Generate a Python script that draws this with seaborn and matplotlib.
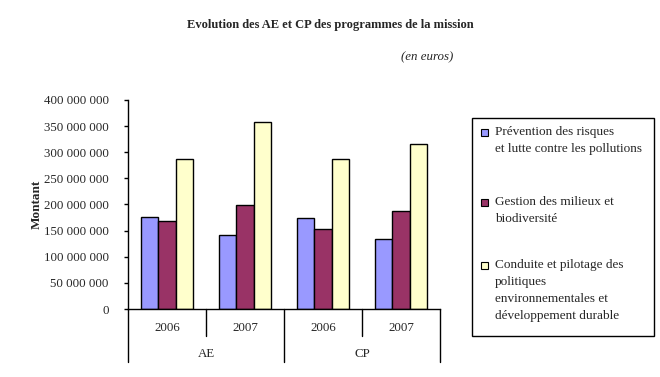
import matplotlib
matplotlib.use("Agg")
import matplotlib.pyplot as plt
import matplotlib.transforms as mtransforms
from matplotlib.patches import Rectangle
from matplotlib.ticker import FuncFormatter
import pandas as pd
import seaborn as sns

# Données (en euros)
types = ["AE", "AE", "CP", "CP"]
annees = ["2006", "2007", "2006", "2007"]
programmes = [
    "Prévention des risques\net lutte contre les pollutions",
    "Gestion des milieux et\nbiodiversité",
    "Conduite et pilotage des\npolitiques\nenvironnementales et\ndéveloppement durable",
]
prevention = [177_000_000, 141_000_000, 173_500_000, 133_500_000]
gestion = [167_500_000, 198_500_000, 152_500_000, 188_500_000]
conduite = [287_500_000, 358_000_000, 287_500_000, 316_000_000]
couleurs = ["#9999FF", "#993366", "#FFFFCC"]

# Tableau long pour seaborn
cats = [f"{t} {a}" for t, a in zip(types, annees)]
rows = []
for prog, vals in zip(programmes, [prevention, gestion, conduite]):
    for c, v in zip(cats, vals):
        rows.append({"cat": c, "programme": prog, "montant": v})
df = pd.DataFrame(rows)

sns.set_style("white")
plt.rcParams["font.family"] = ["Liberation Serif", "DejaVu Serif"]

fig = plt.figure(figsize=(6.6, 3.77), dpi=100)
ax = fig.add_axes([128 / 660, 1 - 309 / 377, 312 / 660, 209 / 377])

sns.barplot(data=df, x="cat", y="montant", hue="programme", order=cats,
            hue_order=programmes, palette=couleurs, saturation=1, width=0.66,
            edgecolor="black", linewidth=1.0, legend=False, ax=ax)

ax.set_xlim(-0.5, len(cats) - 0.5)
ax.set_ylim(0, 400_000_000)
ax.set_yticks(range(0, 400_000_001, 50_000_000))
ax.yaxis.set_major_formatter(FuncFormatter(lambda v, p: f"{int(v):,}".replace(",", " ")))
ax.tick_params(axis="y", which="major", left=True, length=3, width=1,
               color="black", labelsize=9.3, pad=11)
ax.set_xticks([])
ax.set_xlabel("")
ax.set_ylabel("Montant", fontsize=9.5, fontweight="bold")
ax.yaxis.set_label_coords(-0.274, 0.5)
for s in ["top", "right"]:
    ax.spines[s].set_visible(False)
for s in ["left", "bottom"]:
    ax.spines[s].set_color("black")
    ax.spines[s].set_linewidth(1)

# Axe des catégories à deux niveaux
trans = mtransforms.blended_transform_factory(ax.transData, ax.transAxes)
for i in range(len(cats) + 1):
    x = i - 0.5
    outer = i % 2 == 0
    ax.plot([x, x], [0, -0.254 if outer else -0.129], color="black", lw=1,
            transform=trans, clip_on=False)
for i, a in enumerate(annees):
    ax.text(i, -0.09, a, transform=trans, ha="center", va="center", fontsize=9.3)
for i in range(0, len(types), 2):
    ax.text(i + 0.5, -0.215, types[i], transform=trans, ha="center", va="center",
            fontsize=9.3)

# Titre
fig.text(330 / 660, 1 - 25 / 377, "Evolution des AE et CP des programmes de la mission",
         ha="center", va="center", fontsize=9, fontweight="bold")
fig.text(427 / 660, 1 - 57 / 377, "(en euros)", ha="center", va="center",
         fontsize=9.3, style="italic")

# Légende
fig.patches.append(Rectangle((472 / 660, 1 - 336 / 377), 182 / 660, 218 / 377,
                             transform=fig.transFigure, facecolor="white",
                             edgecolor="black", lw=1))
tops = [126, 196, 259]
for prog, col, top in zip(programmes, couleurs, tops):
    fig.patches.append(Rectangle((481 / 660, 1 - (top + 10) / 377), 7 / 660, 7 / 377,
                                 transform=fig.transFigure, facecolor=col,
                                 edgecolor="black", lw=0.8))
    fig.text(495 / 660, 1 - top / 377, prog, ha="left", va="top", fontsize=9.5,
             linespacing=1.55)

fig.savefig("out.png", dpi=100)
